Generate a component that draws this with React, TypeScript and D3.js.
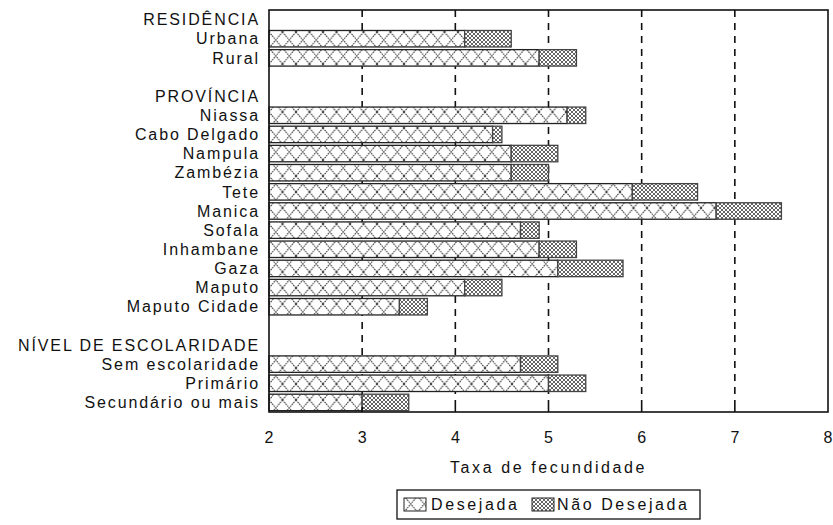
import React from "react";
import * as d3 from "d3";

const rowLabels = [
  "RESIDÊNCIA", "Urbana", "Rural", "",
  "PROVÍNCIA", "Niassa", "Cabo Delgado", "Nampula", "Zambézia", "Tete", "Manica",
  "Sofala", "Inhambane", "Gaza", "Maputo", "Maputo Cidade", "",
  "NÍVEL DE ESCOLARIDADE", "Sem escolaridade", "Primário", "Secundário ou mais",
];
const desejada = [
  null, 4.1, 4.9, null,
  null, 5.2, 4.4, 4.6, 4.6, 5.9, 6.8, 4.7, 4.9, 5.1, 4.1, 3.4, null,
  null, 4.7, 5.0, 3.0,
];
const naoDesejada = [
  null, 0.5, 0.4, null,
  null, 0.2, 0.1, 0.5, 0.4, 0.7, 0.7, 0.2, 0.4, 0.7, 0.4, 0.3, null,
  null, 0.4, 0.4, 0.5,
];
const xTicks = [2, 3, 4, 5, 6, 7, 8];
const gridTicks = [3, 4, 5, 6, 7];
const seriesNames = ["Desejada", "Não Desejada"];
const xTitle = "Taxa de fecundidade";

const W = 833, H = 525;
const plot = { left: 269, right: 828, top: 10, bottom: 412 };
const FONT = "'Liberation Sans', Arial, sans-serif";

export default function App() {
  const x = d3.scaleLinear().domain([2, 8]).range([plot.left, plot.right]);
  const y = d3
    .scaleBand<number>()
    .domain(d3.range(rowLabels.length))
    .range([plot.top, plot.bottom])
    .paddingInner(0.14)
    .paddingOuter(0.07);
  const bw = y.bandwidth();

  return (
    <svg width={W} height={H} style={{ position: "absolute", left: 0, top: 0, background: "#fff" }} fontFamily={FONT}>
      <defs>
        <pattern id="pDes" patternUnits="userSpaceOnUse" width={13.5} height={16} x={plot.left}>
          <rect width={13.5} height={16} fill="#fff" />
          <path d="M0,0 L13.5,16 M13.5,0 L0,16" stroke="#333" strokeWidth={1} strokeDasharray="1.6,0.8" />
        </pattern>
        <pattern id="pNao" patternUnits="userSpaceOnUse" width={4} height={4}>
          <rect width={4} height={4} fill="#fff" />
          <path d="M0,0 L4,4 M4,0 L0,4" stroke="#555" strokeWidth={0.9} />
        </pattern>
      </defs>
      <rect x={0} y={0} width={W} height={H} fill="#fff" />
      {gridTicks.map((t) => (
        <line key={t} x1={x(t)} x2={x(t)} y1={plot.top} y2={plot.bottom} stroke="#111" strokeWidth={1.6} strokeDasharray="7,6" />
      ))}
      {rowLabels.map((lab, i) => {
        const d = desejada[i];
        const n = naoDesejada[i];
        if (d == null || n == null) return null;
        const yy = y(i)!;
        return (
          <g key={i}>
            <rect x={x(2)} y={yy} width={x(d) - x(2)} height={bw} fill="url(#pDes)" stroke="#222" strokeWidth={1.3} />
            <rect x={x(d)} y={yy} width={x(d + n) - x(d)} height={bw} fill="url(#pNao)" stroke="#444" strokeWidth={1.3} />
          </g>
        );
      })}
      <rect x={plot.left} y={plot.top} width={plot.right - plot.left} height={plot.bottom - plot.top} fill="none" stroke="#111" strokeWidth={1.6} />
      {gridTicks.map((t) => (
        <line key={"t" + t} x1={x(t)} x2={x(t)} y1={plot.bottom} y2={plot.bottom - 5} stroke="#111" strokeWidth={1.6} />
      ))}
      {rowLabels.map((lab, i) => (
        <text key={"l" + i} x={plot.left - 9} y={y(i)! + bw / 2} dy="0.36em" textAnchor="end" fontSize={16} letterSpacing={1.9} fill="#111">
          {lab}
        </text>
      ))}
      {xTicks.map((t) => (
        <text key={"x" + t} x={x(t)} y={437} dy="0.36em" textAnchor="middle" fontSize={16} fill="#111">
          {t}
        </text>
      ))}
      <text x={(plot.left + plot.right) / 2} y={467} dy="0.36em" textAnchor="middle" fontSize={16} letterSpacing={2.6} fill="#111">
        {xTitle}
      </text>
      <g>
        <rect x={397} y={490} width={303} height={29} fill="#fff" stroke="#111" strokeWidth={1.3} />
        <rect x={404} y={498} width={22} height={13} fill="url(#pDes)" stroke="#222" strokeWidth={1} />
        <text x={431} y={504.5} dy="0.36em" fontSize={16} letterSpacing={2.6} fill="#111">{seriesNames[0]}</text>
        <rect x={532} y={498} width={22} height={13} fill="url(#pNao)" stroke="#222" strokeWidth={1} />
        <text x={557} y={504.5} dy="0.36em" fontSize={16} letterSpacing={2.6} fill="#111">{seriesNames[1]}</text>
      </g>
    </svg>
  );
}
